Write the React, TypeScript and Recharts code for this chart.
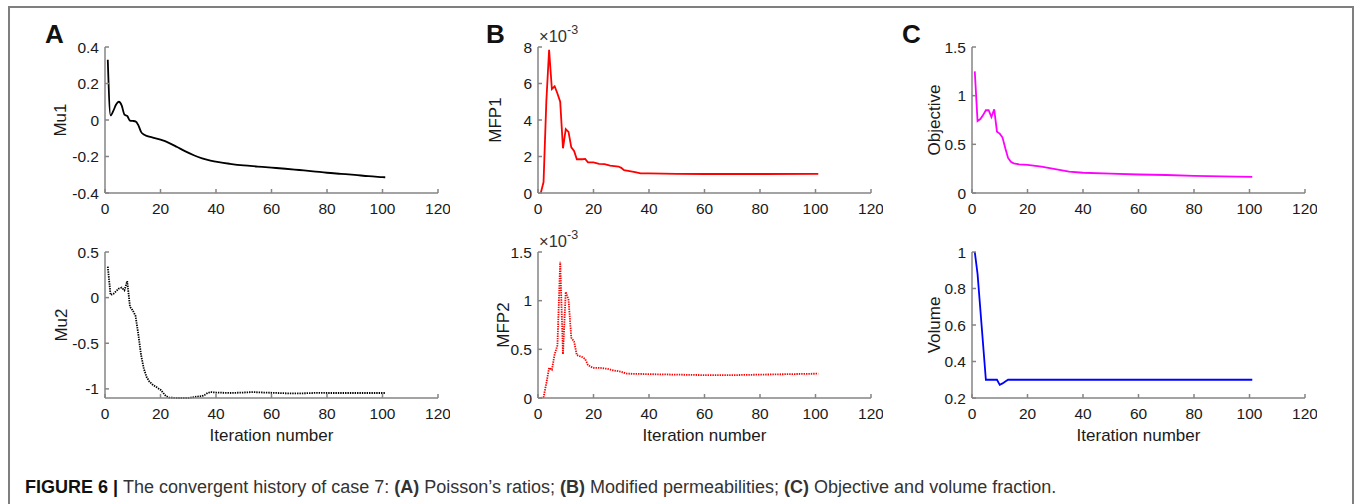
import React from "react";
import { LineChart, Line, XAxis, YAxis } from "recharts";

type Pt = [number, number];

// iteration number -> value
const mu1: Pt[] = [
  [1, 0.33], [2, 0.025], [3, 0.05], [4, 0.085], [5, 0.1], [6, 0.08], [7, 0.03],
  [8, 0.022], [9, -0.003], [10, -0.005], [11, -0.008], [12, -0.028], [13, -0.065],
  [14, -0.08], [15, -0.087], [17, -0.095], [20, -0.108], [23, -0.125], [26, -0.148],
  [29, -0.172], [32, -0.193], [35, -0.21], [38, -0.222], [41, -0.231], [45, -0.24],
  [50, -0.249], [55, -0.255], [60, -0.261], [65, -0.267], [70, -0.274], [75, -0.281],
  [80, -0.289], [85, -0.295], [90, -0.301], [95, -0.308], [100, -0.313], [101, -0.314],
];

const mu2: Pt[] = [
  [1, 0.34], [2, 0.03], [3, 0.04], [4, 0.07], [5, 0.1], [6, 0.11], [7, 0.08], [8, 0.18],
  [9, -0.1], [10, -0.14], [11, -0.2], [12, -0.4], [13, -0.63], [14, -0.78], [15, -0.87],
  [16, -0.92], [17, -0.95], [18, -0.97], [20, -1.01], [22, -1.08], [23, -1.095],
  [26, -1.1], [30, -1.1], [31, -1.095], [33, -1.085], [35, -1.08], [36, -1.065],
  [37, -1.045], [38, -1.035], [40, -1.04], [45, -1.045], [50, -1.04], [53, -1.035],
  [57, -1.04], [62, -1.045], [67, -1.05], [72, -1.048], [76, -1.044], [80, -1.045],
  [90, -1.045], [101, -1.045],
];

// x 10^-3
const mfp1: Pt[] = [
  [1, 0], [2, 0.6], [3, 5.0], [4, 7.85], [5, 5.7], [6, 5.85], [7, 5.45], [8, 5.0],
  [9, 2.45], [10, 3.5], [11, 3.35], [12, 2.5], [13, 2.3], [14, 1.85], [15, 1.85],
  [16, 1.85], [17, 1.87], [18, 1.68], [20, 1.68], [22, 1.6], [24, 1.58], [26, 1.5],
  [29, 1.45], [30, 1.38], [31, 1.25], [33, 1.2], [35, 1.15], [37, 1.08], [40, 1.07],
  [50, 1.05], [60, 1.04], [80, 1.04], [101, 1.05],
];

// x 10^-3
const mfp2: Pt[] = [
  [1, 0], [2, 0.01], [3, 0.15], [4, 0.31], [5, 0.29], [6, 0.45], [7, 0.54], [8, 1.4],
  [9, 0.45], [10, 1.09], [11, 1.01], [12, 0.62], [13, 0.58], [14, 0.44], [15, 0.43],
  [16, 0.42], [17, 0.4], [18, 0.34], [19, 0.32], [20, 0.31], [22, 0.31], [25, 0.3],
  [27, 0.285], [30, 0.27], [32, 0.25], [40, 0.245], [50, 0.24], [60, 0.235],
  [70, 0.235], [80, 0.24], [90, 0.245], [101, 0.25],
];

const objective: Pt[] = [
  [1, 1.25], [2, 0.74], [3, 0.76], [4, 0.8], [5, 0.85], [6, 0.85], [7, 0.78], [8, 0.86],
  [9, 0.63], [10, 0.61], [11, 0.57], [12, 0.46], [13, 0.36], [14, 0.32], [15, 0.305],
  [17, 0.295], [20, 0.29], [25, 0.27], [30, 0.245], [35, 0.22], [40, 0.208], [50, 0.2],
  [60, 0.19], [70, 0.185], [80, 0.175], [90, 0.17], [101, 0.165],
];

const volume: Pt[] = [
  [1, 1.0], [2, 0.88], [5, 0.3], [9, 0.3], [10, 0.272], [11, 0.28], [12, 0.29],
  [13, 0.3], [14, 0.3], [101, 0.3],
];

const xTicks = [0, 20, 40, 60, 80, 100, 120];
const mu1Ticks = [-0.4, -0.2, 0, 0.2, 0.4];
const mu2Ticks = [-1, -0.5, 0, 0.5];
const mfp1Ticks = [0, 2, 4, 6, 8];
const mfp2Ticks = [0, 0.5, 1, 1.5];
const objTicks = [0, 0.5, 1, 1.5];
const volTicks = [0.2, 0.4, 0.6, 0.8, 1];

const FONT = '"Liberation Sans", Arial, Helvetica, sans-serif';
const AXIS = "#858585";
const TEXT = "#1a1a1a";

const PLOT_W = 333;
const PLOT_H = 146;
const Y_W = 70;
const M_TOP = 10;
const M_RIGHT = 12;

interface PanelProps {
  data: Pt[];
  left: number;
  top: number;
  yDomain: [number, number];
  yTicks: number[];
  yLabel: string;
  labelOffset: number;
  color: string;
  dotted?: boolean;
  curve?: "linear" | "monotone";
  xLabel?: boolean;
}

function Panel(p: PanelProps) {
  const xh = p.xLabel ? 55 : 30;
  const rows = p.data.map(([it, v]) => ({ it, v }));
  const tickStyle = { fill: TEXT, fontSize: 15.5 };
  return (
    <div style={{ position: "absolute", left: p.left - Y_W, top: p.top - M_TOP }}>
      <LineChart
        width={Y_W + PLOT_W + M_RIGHT}
        height={M_TOP + PLOT_H + xh}
        data={rows}
        margin={{ top: M_TOP, right: M_RIGHT, left: 0, bottom: 0 }}
      >
        <XAxis
          dataKey="it"
          type="number"
          domain={[0, 120]}
          ticks={xTicks}
          height={xh}
          stroke={AXIS}
          strokeWidth={1.5}
          tickSize={-4}
          tickMargin={14}
          tick={tickStyle}
          label={
            p.xLabel
              ? { value: "Iteration number", position: "insideBottom", offset: 12, style: { fill: TEXT, fontSize: 17 } }
              : undefined
          }
        />
        <XAxis
          xAxisId="top"
          orientation="top"
          dataKey="it"
          type="number"
          domain={[0, 120]}
          ticks={xTicks}
          height={0}
          stroke={AXIS}
          strokeWidth={1.5}
          tickSize={-4}
          tick={false}
        />
        <YAxis
          dataKey="v"
          type="number"
          domain={p.yDomain}
          ticks={p.yTicks}
          width={Y_W}
          stroke={AXIS}
          strokeWidth={1.5}
          tickSize={-4}
          tickMargin={10}
          tick={tickStyle}
          label={{
            value: p.yLabel,
            angle: -90,
            position: "insideLeft",
            offset: p.labelOffset,
            style: { textAnchor: "middle", fill: TEXT, fontSize: 17 },
          }}
        />
        <YAxis
          yAxisId="right"
          orientation="right"
          dataKey="v"
          type="number"
          domain={p.yDomain}
          ticks={p.yTicks}
          width={0}
          stroke={AXIS}
          strokeWidth={1.5}
          tickSize={-4}
          tick={false}
        />
        <Line
          type={p.curve ?? "linear"}
          dataKey="v"
          stroke={p.color}
          strokeWidth={1.8}
          strokeDasharray={p.dotted ? "1.4 1" : undefined}
          dot={false}
          activeDot={false}
          isAnimationActive={false}
        />
      </LineChart>
    </div>
  );
}

function Sci({ x, y }: { x: number; y: number }) {
  return (
    <text x={x} y={y} fontSize={16.5} fill="#333">
      ×10
      <tspan fontSize={12.5} dy={-8}>-3</tspan>
    </text>
  );
}

export default function App() {
  return (
    <div
      style={{
        position: "absolute",
        left: 0,
        top: 0,
        width: 1355,
        height: 504,
        overflow: "hidden",
        background: "#fff",
        fontFamily: FONT,
      }}
    >
      <div
        style={{
          position: "absolute",
          left: 8,
          top: 6,
          width: 1346,
          height: 600,
          border: "2px solid #7f7f7f",
          boxSizing: "border-box",
        }}
      />

      <Panel data={mu1} left={105} top={47} yDomain={[-0.4, 0.4]} yTicks={mu1Ticks} yLabel="Mu1" labelOffset={25} color="#000" curve="monotone" />
      <Panel data={mu2} left={105} top={252} yDomain={[-1.1, 0.5]} yTicks={mu2Ticks} yLabel="Mu2" labelOffset={26} color="#000" dotted xLabel />
      <Panel data={mfp1} left={538} top={47} yDomain={[0, 8]} yTicks={mfp1Ticks} yLabel="MFP1" labelOffset={27} color="#ff0000" />
      <Panel data={mfp2} left={538} top={252} yDomain={[0, 1.5]} yTicks={mfp2Ticks} yLabel="MFP2" labelOffset={35} color="#ff0000" dotted xLabel />
      <Panel data={objective} left={972} top={47} yDomain={[0, 1.5]} yTicks={objTicks} yLabel="Objective" labelOffset={32} color="#ff00ff" />
      <Panel data={volume} left={972} top={252} yDomain={[0.2, 1]} yTicks={volTicks} yLabel="Volume" labelOffset={32} color="#0000ff" xLabel />

      <svg
        width={1355}
        height={504}
        style={{ position: "absolute", left: 0, top: 0, pointerEvents: "none", fontFamily: FONT }}
      >
        <text x={45} y={43} fontSize={26} fontWeight="bold" fill="#111">A</text>
        <text x={486} y={43} fontSize={26} fontWeight="bold" fill="#111">B</text>
        <text x={902} y={43} fontSize={26} fontWeight="bold" fill="#111">C</text>
        <Sci x={539} y={42} />
        <Sci x={539} y={247} />
        <text x={25} y={493} fontSize={18} fill="#333">
          <tspan fontWeight="bold" fill="#111">FIGURE 6 | </tspan>
          The convergent history of case 7: <tspan fontWeight="bold">(A)</tspan> Poisson’s ratios;{" "}
          <tspan fontWeight="bold">(B)</tspan> Modified permeabilities; <tspan fontWeight="bold">(C)</tspan>{" "}
          Objective and volume fraction.
        </text>
      </svg>
    </div>
  );
}
